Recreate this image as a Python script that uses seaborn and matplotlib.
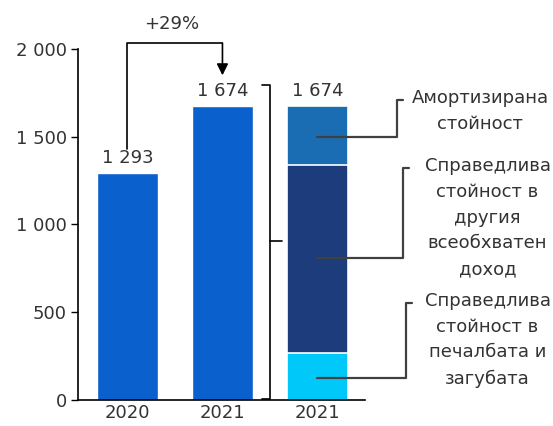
import matplotlib
matplotlib.use("Agg")
import matplotlib.pyplot as plt
import seaborn as sns
import pandas as pd

# data
keys = ["2020", "2021", "2021s"]
tick_labels = ["2020", "2021", "2021"]
totals = [1293, 1674, 1674]
# stacked parts of the third bar, bottom to top
seg_names = ["Справедлива\nстойност в\nпечалбата и\nзагубата",
             "Справедлива\nстойност в\nдругия\nвсеобхватен\nдоход",
             "Амортизирана\nстойност"]
seg_values = [267, 1074, 333]
seg_colors = ["#00c8f8", "#1c3c7c", "#1a6db3"]
growth_label = "+29%"

bar_blue = "#0a60cc"
text_col = "#333333"
line_col = "#404040"
fs = 13

sns.set_theme(style="white")
plt.rcParams["font.family"] = ["DejaVu Sans"]

fig = plt.figure(figsize=(5.53, 4.26), dpi=100)
ax = fig.add_axes([78 / 553, 26 / 426, 287 / 553, 351 / 426])

df = pd.DataFrame({"key": keys[:2], "value": totals[:2]})
sns.barplot(data=df, x="key", y="value", order=keys, color=bar_blue,
            width=0.64, saturation=1, ax=ax)

# stacked bar: cumulative heights drawn from tallest to shortest
cum = [sum(seg_values[:i + 1]) for i in range(len(seg_values))]
for h, c in reversed(list(zip(cum, seg_colors))):
    sdf = pd.DataFrame({"key": [keys[2]], "value": [h]})
    sns.barplot(data=sdf, x="key", y="value", order=keys, color=c,
                width=0.64, saturation=1, edgecolor="white", linewidth=1.2, ax=ax)

ax.set_xlim(-0.52, 2.5)
ax.set_ylim(0, 2000)
ax.set_yticks([0, 500, 1000, 1500, 2000])
ax.set_yticklabels(["0", "500", "1 000", "1 500", "2 000"])
ax.set_xticks([0, 1, 2])
ax.set_xticklabels(tick_labels)
ax.set_xlabel("")
ax.set_ylabel("")
ax.tick_params(axis="y", length=5, width=1, color="black", direction="out",
               labelsize=fs, labelcolor=text_col, pad=3, left=True)
ax.tick_params(axis="x", length=0, labelsize=fs, labelcolor=text_col, pad=3)
for s in ["top", "right"]:
    ax.spines[s].set_visible(False)
for s in ["left", "bottom"]:
    ax.spines[s].set_color("black")
    ax.spines[s].set_linewidth(1.2)

# value labels
for i, v in enumerate(totals):
    ax.text(i, v + 35, f"{v:,}".replace(",", " "), ha="center", va="bottom",
            fontsize=fs, color=text_col)

kw = dict(color="black", lw=1.2, clip_on=False)
# growth arrow
ax.plot([0, 0, 1], [1430, 2034, 2034], **kw)
ax.annotate("", xy=(1, 1850), xytext=(1, 2034),
            arrowprops=dict(arrowstyle="-|>", color="black", lw=1.2,
                            mutation_scale=17, shrinkA=0, shrinkB=0),
            annotation_clip=False)
ax.text(0.47, 2140, growth_label, ha="center", va="center", fontsize=fs,
        color=text_col)

# bracket right of 2021 bar
ax.plot([1.42, 1.505, 1.505, 1.42], [1795, 1795, 8, 8], **kw)
ax.plot([1.505, 1.63], [905, 905], **kw)

# callouts
ck = dict(color=line_col, lw=1.6, clip_on=False)
callouts = [
    (1500, 2.84, 1709, 3.71),
    (809, 2.905, 1322, 3.79),
    (125, 2.93, 553, 3.79),
]
for (y0, xv, yt, xc), name in zip(callouts, reversed(seg_names)):
    ax.plot([2.0, xv, xv, xv + 0.06], [y0, y0, yt, yt], **ck)
    ax.text(xc, yt + 62, name, ha="center", va="top", fontsize=fs, color=text_col,
            linespacing=1.55)

fig.savefig("out.png", dpi=100)
